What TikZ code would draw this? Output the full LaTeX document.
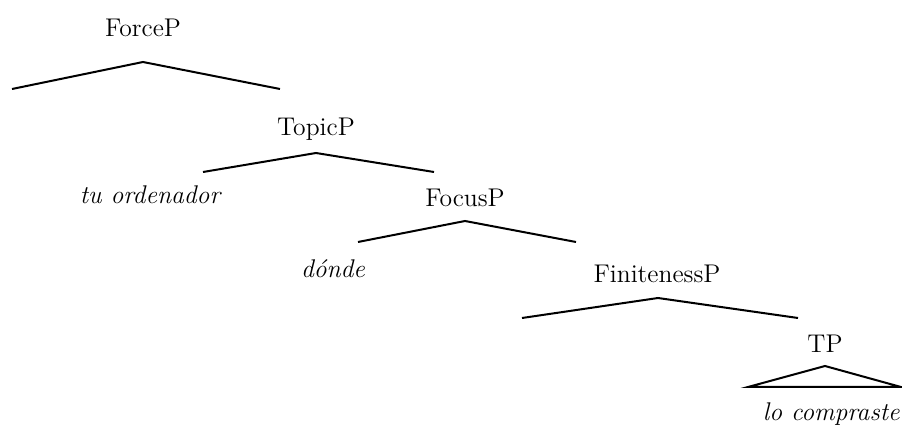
\documentclass[tikz,border=0pt]{standalone}
\begin{document}
\begin{tikzpicture}[x=0.5pt,y=-0.5pt,
  lbl/.style={inner sep=0pt,anchor=base,font=\fontsize{12.8pt}{15pt}\selectfont},
  lex/.style={lbl,font=\fontsize{12.8pt}{15pt}\selectfont\itshape},
  branch/.style={line width=1pt,line join=miter}]
\useasboundingbox (0,0) rectangle (902,427);
% labels
\node[lbl] (force) at (143,37) {ForceP};
\node[lbl] (topic) at (316,136) {TopicP};
\node[lex] (tu) at (150,204) {tu ordenador};
\node[lbl] (focus) at (465,207) {FocusP};
\node[lex] (donde) at (333,278) {d\'onde};
\node[lbl] (fin) at (657,283) {FinitenessP};
\node[lbl] (tp) at (825,353) {TP};
\node[lex,anchor=base east] (lo) at (900,421) {lo compraste};
% branch points
\coordinate (fa) at (143,62);
\coordinate (fl) at (12,89);
\coordinate (fr) at (280,89);
\coordinate (ta) at (316,153);
\coordinate (tl) at (203,172);
\coordinate (tr) at (434,172);
\coordinate (ca) at (465,221);
\coordinate (cl) at (358,242);
\coordinate (cr) at (576,242);
\coordinate (na) at (658,298);
\coordinate (nl) at (522,318);
\coordinate (nr) at (798,318);
\coordinate (pa) at (825,366);
\coordinate (pl) at (748,387);
\coordinate (pr) at (901,387);
\draw[branch] (fl) -- (fa) -- (fr);
\draw[branch] (tl) -- (ta) -- (tr);
\draw[branch] (cl) -- (ca) -- (cr);
\draw[branch] (nl) -- (na) -- (nr);
\draw[branch] (pl) -- (pa) -- (pr) -- cycle;
\end{tikzpicture}
\end{document}
